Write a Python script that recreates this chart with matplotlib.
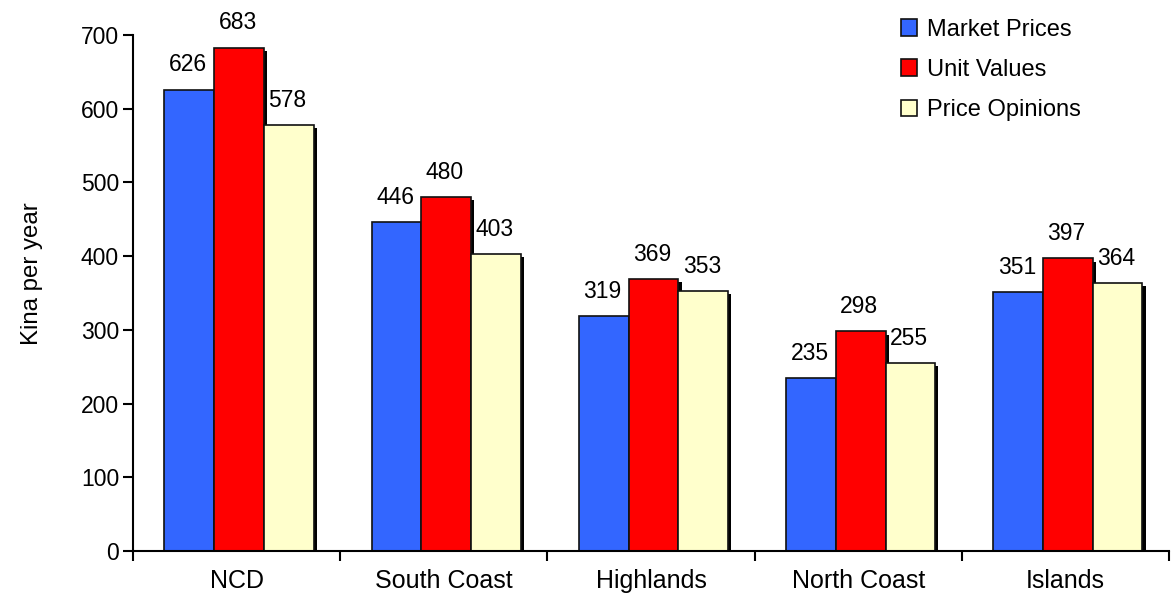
import numpy as np
import matplotlib
matplotlib.use("Agg")
from matplotlib import pyplot as plt

plt.rcParams['font.family'] = ['Liberation Sans', 'DejaVu Sans']

regions = ['NCD', 'South Coast', 'Highlands', 'North Coast', 'Islands']
market_prices = [626, 446, 319, 235, 351]
unit_values = [683, 480, 369, 298, 397]
price_opinions = [578, 403, 353, 255, 364]

series = [
    ('Market Prices', market_prices, '#3366FF'),
    ('Unit Values', unit_values, '#FF0000'),
    ('Price Opinions', price_opinions, '#FFFFCC'),
]

fig = plt.figure(figsize=(11.73, 5.99), dpi=100)
ax = fig.add_axes([133 / 1173, 48 / 599, 1036 / 1173, 516 / 599])

x = np.arange(len(regions))
w = 0.24
fs = 16.5

# shadow offset (about 3 px right / 3 px down)
dx = 3.2 / 207.2
dy = 3.2 * 700 / 516

for i, (name, vals, col) in enumerate(series):
    pos = x + (i - 1) * w + 0.012
    vals = np.array(vals)
    ax.bar(pos + dx, vals - dy, w, color='black', zorder=1)
    ax.bar(pos, vals, w, color=col, edgecolor='#111111', linewidth=1.2,
           label=name, zorder=2)
    for px, v in zip(pos, vals):
        ax.annotate(str(v), xy=(px, v), xytext=(-1, 13), textcoords='offset points',
                    ha='center', va='baseline', fontsize=fs)

ax.set_xlim(-0.5, len(regions) - 0.5)
ax.set_ylim(0, 700)
ax.set_yticks(range(0, 701, 100))
ax.set_xticks(x)
ax.set_xticklabels(regions, fontsize=18)
ax.set_xticks(np.arange(-0.5, len(regions), 1), minor=True)
ax.tick_params(axis='x', which='major', length=0, pad=13)
ax.tick_params(axis='x', which='minor', length=7, width=1.5, direction='out')
ax.tick_params(axis='y', length=7, width=1.5, direction='out', labelsize=fs, pad=3)

for s in ['top', 'right']:
    ax.spines[s].set_visible(False)
for s in ['left', 'bottom']:
    ax.spines[s].set_linewidth(1.5)

ax.set_ylabel('Kina per year', fontsize=17.3)
ax.yaxis.set_label_coords(-0.087, 0.537)

leg = ax.legend(loc='upper right', bbox_to_anchor=(0.935, 1.073), frameon=False,
                fontsize=17, handlelength=0.7, handleheight=0.7,
                handletextpad=0.4, labelspacing=0.78)

fig.savefig('out.png', dpi=100)
